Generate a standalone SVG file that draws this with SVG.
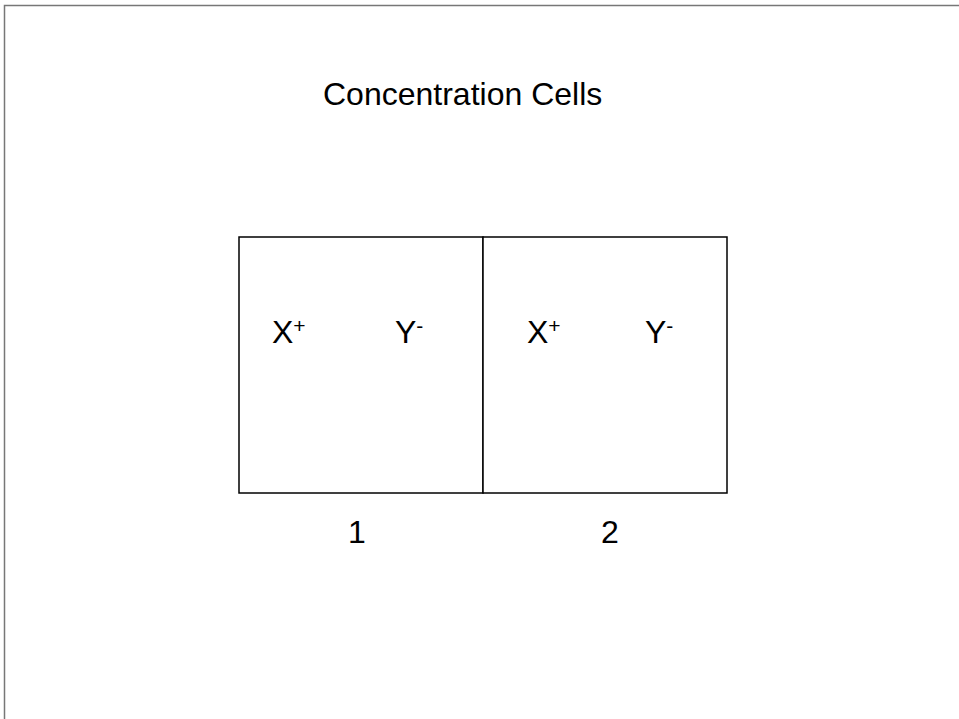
<svg xmlns="http://www.w3.org/2000/svg" width="959" height="719" viewBox="0 0 959 719">
<style>
text{font-family:"Liberation Sans",Arial,sans-serif;fill:#000;font-size:32px}
.sup{font-size:21px}
.cell{fill:#fff;stroke:#000;stroke-width:1.5}
</style>
<rect x="0" y="0" width="959" height="719" fill="#fff"/>
<path d="M4.5 719V5.5H959" fill="none" stroke="#777" stroke-width="1.5"/>
<g id="title"><text x="323" y="105">Concentration Cells</text></g>
<g id="cell1">
<rect class="cell" x="239" y="237" width="244" height="256"/>
<text x="272" y="343">X<tspan class="sup" dy="-10">+</tspan></text>
<text x="395" y="343">Y<tspan class="sup" dy="-10">-</tspan></text>
<text x="348" y="543">1</text>
</g>
<g id="cell2">
<rect class="cell" x="483" y="237" width="244" height="256"/>
<text x="527" y="343">X<tspan class="sup" dy="-10">+</tspan></text>
<text x="645" y="343">Y<tspan class="sup" dy="-10">-</tspan></text>
<text x="601" y="543">2</text>
</g>
<g id="connectors"></g>
</svg>
